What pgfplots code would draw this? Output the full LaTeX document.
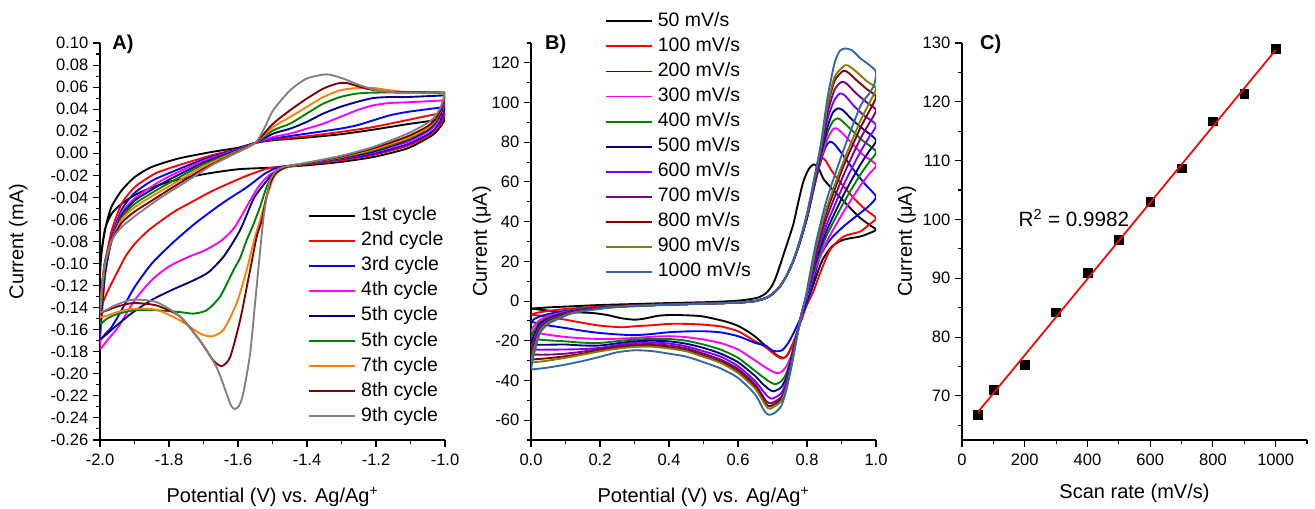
\documentclass[border=0pt]{standalone}
\usepackage{fontspec}
\setmainfont{Liberation Sans}
\usepackage{pgfplots}
\pgfplotsset{compat=1.18}
\definecolor{cRed}{RGB}{255,0,0}
\definecolor{cBlue}{RGB}{0,0,255}
\definecolor{cMag}{RGB}{255,0,255}
\definecolor{cNavy}{RGB}{0,0,128}
\definecolor{cGreen}{RGB}{0,128,0}
\definecolor{cOrange}{RGB}{255,128,0}
\definecolor{cWine}{RGB}{128,0,0}
\definecolor{cGray}{RGB}{128,128,128}
\definecolor{cViolet}{RGB}{128,0,255}
\definecolor{cPurple}{RGB}{128,0,128}
\definecolor{cOlive}{RGB}{128,128,0}
\definecolor{cSteel}{RGB}{51,102,170}
\pgfplotsset{
  orig/.style={
    scale only axis, width=258.75pt, height=297.75pt,
    axis x line*=bottom, axis y line*=left,
    axis line style={-, line width=0.8pt},
    tick align=outside,
    major tick length=5.25pt, minor tick length=3pt,
    every tick/.append style={line width=0.8pt, black},
    every minor tick/.append style={line width=0.8pt, black},
    tick label style={font=\fontsize{12.4}{14}\selectfont},
    xticklabel style={yshift=-1.5pt},
    label style={font=\fontsize{15}{18}\selectfont},
    /pgf/number format/assume math mode=true,
    /pgf/number format/1000 sep={},
    scaled ticks=false,
    clip mode=individual,
    legend style={draw=none, fill=none, inner sep=0pt, outer sep=0pt,
      font=\fontsize{14.6}{17}\selectfont, row sep=5.3pt, column sep=3.75pt,
      nodes={inner sep=0pt, text height=10.5pt, text depth=3pt}},
    legend cell align=left,
    legend image code/.code={\draw[#1, line width=1.4pt] (0pt,0pt) -- (34.5pt,0pt);},
  },
  cv/.style={no markers},
  cl/.style={line width=1.4pt, smooth, tension=0.4},
}
\begin{document}
\begin{tikzpicture}
\useasboundingbox (0,0) rectangle (986.25pt,381.75pt);
% ================= Panel A =================
\begin{axis}[orig, cv, at={(75pt,51.75pt)}, anchor=south west,
  xmin=-2, xmax=-1, ymin=-0.26, ymax=0.10,
  xtick={-2,-1.8,-1.6,-1.4,-1.2,-1}, minor xtick={-1.9,-1.7,-1.5,-1.3,-1.1},
  ytick={-0.26,-0.24,-0.22,-0.20,-0.18,-0.16,-0.14,-0.12,-0.10,-0.08,-0.06,-0.04,-0.02,0,0.02,0.04,0.06,0.08,0.10},
  minor ytick={-0.25,-0.23,-0.21,-0.19,-0.17,-0.15,-0.13,-0.11,-0.09,-0.07,-0.05,-0.03,-0.01,0.01,0.03,0.05,0.07,0.09},
  xticklabel style={/pgf/number format/.cd, fixed, fixed zerofill, precision=1},
  yticklabel style={/pgf/number format/.cd, fixed, fixed zerofill, precision=2},
  xlabel={Potential (V) vs. Ag/Ag\textsuperscript{+}},
  ylabel={Current (mA)},
  xlabel style={at={(axis description cs:0.5,-0.1436)}, anchor=center},
  ylabel style={at={(axis description cs:-0.2368,0.5)}, anchor=center},
  legend style={at={(rel axis cs:0.6038,0.5877)}, anchor=north west},
]
\addplot[cl, black] coordinates {(-1.0,0.031) (-1.005,0.028) (-1.014,0.0238) (-1.03,0.018) (-1.053,0.0133) (-1.111,0.0042) (-1.208,-0.0034) (-1.304,-0.0079) (-1.401,-0.0109) (-1.5,-0.013) (-1.6,-0.0145) (-1.7,-0.019) (-1.8,-0.026) (-1.85,-0.031) (-1.9,-0.038) (-1.94,-0.0465) (-1.966,-0.0547) (-1.985,-0.068) (-1.995,-0.088) (-2.0,-0.109) (-1.997,-0.095) (-1.99,-0.078) (-1.98,-0.062) (-1.966,-0.048) (-1.937,-0.0336) (-1.899,-0.0215) (-1.85,-0.0124) (-1.773,-0.0048) (-1.676,0.0012) (-1.6,0.005) (-1.55,0.0094) (-1.498,0.0118) (-1.401,0.0142) (-1.304,0.0172) (-1.208,0.0214) (-1.111,0.0263) (-1.05,0.029) (-1.0,0.032)};
\addlegendentry{1st cycle}
\addplot[cl, cRed] coordinates {(-1.0,0.037) (-1.005,0.032) (-1.014,0.026) (-1.03,0.020) (-1.053,0.015) (-1.111,0.0065) (-1.208,-0.0015) (-1.304,-0.0065) (-1.401,-0.010) (-1.5,-0.013) (-1.531,-0.0154) (-1.58,-0.021) (-1.628,-0.0275) (-1.68,-0.035) (-1.725,-0.0426) (-1.78,-0.052) (-1.821,-0.0608) (-1.86,-0.070) (-1.899,-0.082) (-1.925,-0.093) (-1.947,-0.106) (-1.976,-0.124) (-1.99,-0.134) (-2.0,-0.142) (-1.997,-0.128) (-1.993,-0.115) (-1.986,-0.100) (-1.966,-0.07) (-1.937,-0.0456) (-1.899,-0.0306) (-1.841,-0.0185) (-1.773,-0.0109) (-1.676,-0.0018) (-1.6,0.004) (-1.55,0.0094) (-1.498,0.0124) (-1.401,0.0154) (-1.304,0.0193) (-1.208,0.0238) (-1.111,0.030) (-1.05,0.034) (-1.0,0.037)};
\addlegendentry{2nd cycle}
\addplot[cl, cBlue] coordinates {(-1.0,0.042) (-1.005,0.036) (-1.014,0.029) (-1.03,0.022) (-1.053,0.0165) (-1.111,0.008) (-1.208,-0.0005) (-1.304,-0.0055) (-1.401,-0.0095) (-1.48,-0.0125) (-1.52,-0.018) (-1.55,-0.025) (-1.58,-0.032) (-1.647,-0.0456) (-1.725,-0.0638) (-1.792,-0.082) (-1.85,-0.100) (-1.899,-0.121) (-1.937,-0.142) (-1.966,-0.1575) (-1.985,-0.164) (-2.0,-0.169) (-1.997,-0.15) (-1.993,-0.135) (-1.985,-0.108) (-1.966,-0.076) (-1.937,-0.051) (-1.9,-0.036) (-1.85,-0.025) (-1.8,-0.018) (-1.7,-0.0055) (-1.6,0.004) (-1.55,0.0094) (-1.498,0.0133) (-1.401,0.0178) (-1.304,0.0223) (-1.256,0.0253) (-1.208,0.0299) (-1.159,0.0345) (-1.111,0.0374) (-1.05,0.040) (-1.0,0.042)};
\addlegendentry{3rd cycle}
\addplot[cl, cMag] coordinates {(-1.0,0.048) (-1.005,0.041) (-1.014,0.033) (-1.03,0.025) (-1.053,0.019) (-1.111,0.010) (-1.208,0.001) (-1.304,-0.005) (-1.401,-0.0095) (-1.47,-0.013) (-1.51,-0.02) (-1.54,-0.03) (-1.57,-0.0456) (-1.609,-0.0668) (-1.647,-0.0789) (-1.696,-0.088) (-1.744,-0.094) (-1.802,-0.103) (-1.85,-0.115) (-1.899,-0.133) (-1.947,-0.1575) (-1.975,-0.168) (-2.0,-0.177) (-1.997,-0.158) (-1.993,-0.14) (-1.985,-0.11) (-1.966,-0.078) (-1.937,-0.054) (-1.9,-0.041) (-1.85,-0.030) (-1.8,-0.021) (-1.7,-0.007) (-1.6,0.0035) (-1.55,0.0094) (-1.498,0.0148) (-1.449,0.0178) (-1.401,0.0223) (-1.353,0.0269) (-1.304,0.0329) (-1.256,0.039) (-1.208,0.0435) (-1.159,0.0456) (-1.111,0.0462) (-1.0,0.048)};
\addlegendentry{4th cycle}
\addplot[cl, cNavy] coordinates {(-1.0,0.0525) (-1.005,0.044) (-1.014,0.035) (-1.03,0.027) (-1.053,0.0205) (-1.111,0.0115) (-1.208,0.0015) (-1.304,-0.0045) (-1.401,-0.0095) (-1.47,-0.013) (-1.50,-0.019) (-1.531,-0.0306) (-1.556,-0.042) (-1.594,-0.0697) (-1.64,-0.093) (-1.686,-0.108) (-1.734,-0.116) (-1.792,-0.124) (-1.85,-0.133) (-1.908,-0.145) (-1.957,-0.1575) (-2.0,-0.168) (-1.997,-0.15) (-1.993,-0.135) (-1.985,-0.107) (-1.966,-0.079) (-1.937,-0.056) (-1.9,-0.043) (-1.85,-0.033) (-1.8,-0.024) (-1.7,-0.0085) (-1.6,0.003) (-1.55,0.0094) (-1.498,0.0178) (-1.449,0.0223) (-1.401,0.0284) (-1.353,0.036) (-1.304,0.042) (-1.256,0.0465) (-1.208,0.0501) (-1.159,0.051) (-1.111,0.051) (-1.0,0.0525)};
\addlegendentry{5th cycle}
\addplot[cl, cGreen] coordinates {(-1.0,0.0545) (-1.005,0.046) (-1.014,0.037) (-1.03,0.028) (-1.053,0.0215) (-1.111,0.0125) (-1.208,0.0025) (-1.304,-0.004) (-1.401,-0.0095) (-1.47,-0.0135) (-1.50,-0.021) (-1.517,-0.0305) (-1.536,-0.0486) (-1.556,-0.065) (-1.575,-0.0789) (-1.594,-0.095) (-1.613,-0.106) (-1.652,-0.130) (-1.691,-0.1424) (-1.730,-0.1454) (-1.768,-0.144) (-1.836,-0.1424) (-1.903,-0.1424) (-1.952,-0.146) (-1.98,-0.15) (-2.0,-0.1545) (-1.997,-0.14) (-1.993,-0.125) (-1.985,-0.102) (-1.966,-0.079) (-1.937,-0.058) (-1.9,-0.046) (-1.85,-0.036) (-1.8,-0.027) (-1.7,-0.010) (-1.6,0.0025) (-1.55,0.0094) (-1.498,0.0208) (-1.449,0.0269) (-1.401,0.036) (-1.353,0.045) (-1.304,0.051) (-1.256,0.0541) (-1.208,0.055) (-1.111,0.055) (-1.0,0.0545)};
\addlegendentry{5th cycle}
\addplot[cl, cOrange] coordinates {(-1.0,0.055) (-1.005,0.0465) (-1.014,0.038) (-1.03,0.029) (-1.053,0.0225) (-1.111,0.0135) (-1.208,0.0035) (-1.304,-0.0035) (-1.401,-0.009) (-1.46,-0.013) (-1.478,-0.0154) (-1.495,-0.021) (-1.507,-0.0305) (-1.522,-0.045) (-1.536,-0.0608) (-1.551,-0.076) (-1.575,-0.106) (-1.604,-0.136) (-1.642,-0.160) (-1.676,-0.166) (-1.710,-0.1635) (-1.768,-0.1515) (-1.836,-0.142) (-1.903,-0.141) (-1.95,-0.144) (-2.0,-0.1485) (-1.997,-0.135) (-1.993,-0.12) (-1.985,-0.099) (-1.966,-0.079) (-1.937,-0.060) (-1.9,-0.049) (-1.85,-0.039) (-1.8,-0.030) (-1.7,-0.012) (-1.6,0.002) (-1.55,0.0094) (-1.498,0.0238) (-1.449,0.0329) (-1.401,0.042) (-1.353,0.051) (-1.304,0.0571) (-1.256,0.0592) (-1.208,0.0592) (-1.159,0.0571) (-1.111,0.0556) (-1.0,0.055)};
\addlegendentry{7th cycle}
\addplot[cl, cWine] coordinates {(-1.0,0.0555) (-1.005,0.047) (-1.014,0.0385) (-1.03,0.030) (-1.053,0.024) (-1.111,0.015) (-1.208,0.0045) (-1.304,-0.003) (-1.401,-0.009) (-1.46,-0.0125) (-1.49,-0.018) (-1.505,-0.026) (-1.518,-0.040) (-1.531,-0.0608) (-1.546,-0.076) (-1.565,-0.106) (-1.594,-0.1515) (-1.623,-0.185) (-1.647,-0.193) (-1.671,-0.188) (-1.710,-0.170) (-1.768,-0.148) (-1.836,-0.138) (-1.903,-0.1358) (-1.95,-0.139) (-2.0,-0.144) (-1.997,-0.13) (-1.993,-0.117) (-1.985,-0.097) (-1.966,-0.079) (-1.937,-0.063) (-1.9,-0.053) (-1.85,-0.043) (-1.8,-0.033) (-1.7,-0.014) (-1.6,0.0015) (-1.55,0.0094) (-1.498,0.0269) (-1.449,0.039) (-1.401,0.0495) (-1.353,0.0586) (-1.314,0.0631) (-1.285,0.0637) (-1.227,0.0586) (-1.159,0.0556) (-1.0,0.0555)};
\addlegendentry{8th cycle}
\addplot[cl, cGray] coordinates {(-1.0,0.0555) (-1.005,0.049) (-1.014,0.041) (-1.03,0.033) (-1.053,0.027) (-1.111,0.0175) (-1.208,0.0057) (-1.304,-0.0025) (-1.401,-0.0085) (-1.469,-0.0124) (-1.49,-0.016) (-1.507,-0.0244) (-1.517,-0.040) (-1.527,-0.061) (-1.546,-0.121) (-1.565,-0.182) (-1.585,-0.218) (-1.597,-0.229) (-1.609,-0.232) (-1.62,-0.229) (-1.633,-0.218) (-1.662,-0.194) (-1.710,-0.170) (-1.768,-0.148) (-1.836,-0.135) (-1.903,-0.1327) (-1.95,-0.137) (-2.0,-0.144) (-1.997,-0.13) (-1.993,-0.117) (-1.986,-0.100) (-1.966,-0.0789) (-1.937,-0.0668) (-1.889,-0.0547) (-1.821,-0.0396) (-1.744,-0.0245) (-1.676,-0.0109) (-1.609,-0.0003) (-1.55,0.0094) (-1.525,0.022) (-1.498,0.039) (-1.449,0.0571) (-1.401,0.0677) (-1.343,0.0716) (-1.295,0.0677) (-1.246,0.0616) (-1.188,0.0565) (-1.111,0.055) (-1.0,0.0555)};
\addlegendentry{9th cycle}
\node[anchor=north west, inner sep=0pt, font=\bfseries\fontsize{15}{18}\selectfont] at (rel axis cs:0.035,1.02) {A)};
\end{axis}
% ================= Panel B =================
\begin{axis}[orig, cv, at={(398.25pt,51.75pt)}, anchor=south west,
  xmin=0, xmax=1, ymin=-70, ymax=130,
  xtick={0,0.2,0.4,0.6,0.8,1.0}, minor xtick={0.1,0.3,0.5,0.7,0.9},
  ytick={-60,-40,...,120}, minor ytick={-70,-50,...,130},
  xticklabel style={/pgf/number format/.cd, fixed, fixed zerofill, precision=1},
  xlabel={Potential (V) vs. Ag/Ag\textsuperscript{+}},
  ylabel={Current (μA)},
  xlabel style={at={(axis description cs:0.5,-0.1436)}, anchor=center},
  ylabel style={at={(axis description cs:-0.1429,0.5)}, anchor=center},
  legend style={at={(rel axis cs:0.2145,1.0773)}, anchor=north west},
]
\addplot[cl, black] coordinates {(0,-3.8) (0.05,-3.2) (0.1,-2.8) (0.2,-2.0) (0.3,-1.5) (0.4,-1.0) (0.5,-0.6) (0.562,-0.2) (0.6,0.2) (0.63,0.8) (0.659,1.8) (0.68,3.8) (0.698,7.5) (0.712,13) (0.735,25) (0.76,38.5) (0.775,50) (0.789,60) (0.805,66.5) (0.82,68.8) (0.835,66.5) (0.85,61) (0.9,51.5) (0.95,42.5) (0.98,38.5) (1.0,35.9) (0.975,33.8) (0.954,32.5) (0.906,30.9) (0.872,27.5) (0.845,20.8) (0.828,13) (0.81,4) (0.795,-3) (0.78,-11) (0.765,-19) (0.75,-25) (0.74,-27.8) (0.731,-28.6) (0.717,-27.8) (0.70,-25.5) (0.678,-22.3) (0.654,-18.5) (0.63,-15.5) (0.60,-12.5) (0.562,-10.2) (0.5,-7.8) (0.466,-7.3) (0.41,-7.0) (0.369,-7.4) (0.33,-8.8) (0.30,-9.4) (0.26,-8.6) (0.22,-7.0) (0.176,-6.0) (0.1,-5.5) (0.05,-4.8) (0,-3.8)};
\addlegendentry{50 mV/s}
\addplot[cl, cRed] coordinates {(0,-6.8) (0.02,-5.8) (0.06,-4.8) (0.1,-4.0) (0.2,-2.8) (0.3,-2.1) (0.4,-1.6) (0.5,-1.2) (0.6,-0.7) (0.65,0) (0.68,1.5) (0.70,3.5) (0.72,7) (0.74,12.5) (0.76,20) (0.78,30) (0.80,42) (0.82,57) (0.835,68) (0.845,72) (0.855,70.5) (0.87,66) (0.90,59) (0.94,51) (0.97,46) (1.0,41.8) (0.98,38.5) (0.954,35) (0.906,32.5) (0.867,25.8) (0.838,14.1) (0.819,5) (0.805,0) (0.795,-4) (0.78,-11.5) (0.765,-19) (0.75,-25) (0.74,-28) (0.727,-29) (0.715,-28) (0.70,-26.1) (0.678,-23) (0.65,-20.3) (0.6,-15.2) (0.55,-12.8) (0.5,-11.9) (0.45,-11.5) (0.4,-11.5) (0.35,-12.2) (0.3,-12.7) (0.263,-13.2) (0.2,-12.4) (0.15,-11) (0.1,-9.4) (0.05,-8.0) (0,-6.8)};
\addlegendentry{100 mV/s}
\addplot[cl, cBlue] coordinates {(0,-10.5) (0.01,-9) (0.03,-7.5) (0.06,-6.2) (0.1,-5) (0.15,-4) (0.22,-3) (0.3,-2.3) (0.4,-1.8) (0.5,-1.3) (0.6,-0.8) (0.65,0) (0.68,1.5) (0.70,3.5) (0.72,7) (0.74,12.5) (0.76,20) (0.78,30) (0.80,42) (0.82,57) (0.84,70.5) (0.855,78) (0.867,80.3) (0.88,79) (0.90,74.5) (0.94,65) (0.97,58.5) (1.0,52.6) (0.98,48) (0.954,44.3) (0.906,37.6) (0.867,30.9) (0.838,22.5) (0.819,10.8) (0.805,2) (0.79,-5) (0.775,-11) (0.76,-16.5) (0.746,-21) (0.73,-24.5) (0.717,-25.3) (0.70,-25) (0.68,-22.5) (0.65,-21.1) (0.6,-17.7) (0.55,-15.8) (0.5,-15.2) (0.45,-15.3) (0.4,-15.7) (0.35,-16.6) (0.3,-17.2) (0.25,-16.8) (0.2,-16.1) (0.15,-15) (0.1,-13.6) (0.05,-12.3) (0,-10.5)};
\addlegendentry{200 mV/s}
\addplot[cl, cMag] coordinates {(0,-15.5) (0.007,-13) (0.026,-9.5) (0.05,-7.5) (0.074,-6.5) (0.123,-4.6) (0.219,-2.9) (0.3,-2.3) (0.4,-1.8) (0.5,-1.3) (0.6,-0.8) (0.65,0) (0.68,1.5) (0.70,3.5) (0.72,7) (0.74,12.5) (0.76,20) (0.78,30) (0.80,42) (0.82,57) (0.84,71.5) (0.86,82) (0.875,86.5) (0.885,87) (0.90,85) (0.93,79.5) (0.96,74) (1.0,68.6) (0.98,64) (0.954,58) (0.906,45) (0.857,30) (0.828,18) (0.81,8) (0.795,0) (0.785,-6) (0.77,-17) (0.755,-27) (0.74,-33) (0.725,-35.8) (0.712,-36.3) (0.70,-35.5) (0.68,-33.5) (0.65,-30) (0.6,-24.4) (0.55,-21.2) (0.5,-19.4) (0.45,-18.2) (0.4,-17.7) (0.35,-18) (0.3,-18.6) (0.25,-19) (0.2,-19.1) (0.15,-18.8) (0.1,-18.1) (0.05,-17) (0,-15.5)};
\addlegendentry{300 mV/s}
\addplot[cl, cGreen] coordinates {(0,-19) (0.007,-15.5) (0.026,-10.5) (0.05,-8.3) (0.074,-7) (0.123,-4.8) (0.219,-3) (0.3,-2.3) (0.4,-1.8) (0.5,-1.3) (0.6,-0.8) (0.65,0) (0.68,1.5) (0.70,3.5) (0.72,7) (0.74,12.5) (0.76,20) (0.78,30) (0.80,42) (0.82,57.5) (0.84,73) (0.86,85) (0.875,90.5) (0.888,92) (0.90,91) (0.93,86) (0.96,81) (1.0,75.3) (0.98,70) (0.954,63.5) (0.906,49.5) (0.857,33) (0.828,20) (0.81,9) (0.795,0.5) (0.785,-6) (0.77,-17) (0.755,-28) (0.74,-36.5) (0.725,-40.5) (0.707,-41.9) (0.69,-40.5) (0.67,-38) (0.65,-35.3) (0.6,-28.6) (0.55,-24.5) (0.5,-21.9) (0.45,-20) (0.4,-19.1) (0.35,-19.1) (0.3,-19.4) (0.25,-20.2) (0.2,-21.1) (0.15,-21) (0.1,-20.3) (0.05,-19.8) (0,-19)};
\addlegendentry{400 mV/s}
\addplot[cl, cNavy] coordinates {(0,-22) (0.007,-18) (0.026,-11.5) (0.05,-9) (0.074,-7.4) (0.123,-5) (0.219,-3) (0.3,-2.3) (0.4,-1.8) (0.5,-1.3) (0.6,-0.8) (0.65,0) (0.68,1.5) (0.70,3.5) (0.72,7) (0.74,12.5) (0.76,20) (0.78,30) (0.80,42) (0.82,58) (0.84,74) (0.86,88) (0.875,95) (0.89,97.1) (0.905,96) (0.93,91.5) (0.96,87) (1.0,81.1) (0.98,75.5) (0.954,68.5) (0.906,53.5) (0.857,35.5) (0.828,21.5) (0.81,9.5) (0.795,0.5) (0.785,-6) (0.77,-17) (0.755,-29) (0.74,-38.5) (0.725,-43.5) (0.703,-45.5) (0.69,-44.5) (0.67,-41.5) (0.65,-37.8) (0.6,-30.8) (0.55,-26.5) (0.5,-23.6) (0.45,-21.5) (0.4,-20.3) (0.35,-20) (0.3,-20.3) (0.25,-21.3) (0.2,-22.4) (0.15,-22.4) (0.1,-21.9) (0.05,-22) (0,-22)};
\addlegendentry{500 mV/s}
\addplot[cl, cViolet] coordinates {(0,-24.5) (0.007,-20) (0.026,-12.5) (0.05,-9.5) (0.074,-7.8) (0.123,-5.2) (0.219,-3.1) (0.3,-2.4) (0.4,-1.8) (0.5,-1.3) (0.6,-0.8) (0.65,0) (0.68,1.5) (0.70,3.5) (0.72,7) (0.74,12.5) (0.76,20) (0.78,30) (0.80,42.5) (0.82,58.5) (0.84,75) (0.86,92) (0.88,101.5) (0.896,104.6) (0.91,103.5) (0.935,98.5) (0.965,93.5) (1.0,88.7) (0.98,82.5) (0.954,75) (0.906,58.5) (0.857,38.5) (0.828,23.5) (0.81,10) (0.795,0.5) (0.785,-6) (0.77,-17.5) (0.755,-30) (0.74,-40.5) (0.725,-46.5) (0.698,-49.2) (0.68,-47) (0.65,-40.4) (0.6,-32.8) (0.55,-28) (0.5,-25.3) (0.45,-22.8) (0.4,-21.4) (0.35,-20.9) (0.3,-21.1) (0.25,-22.2) (0.2,-23.6) (0.15,-24.2) (0.1,-24.4) (0.05,-24.5) (0,-24.5)};
\addlegendentry{600 mV/s}
\addplot[cl, cPurple] coordinates {(0,-27) (0.007,-22) (0.026,-13.5) (0.05,-10) (0.074,-8.2) (0.123,-5.4) (0.219,-3.2) (0.3,-2.4) (0.4,-1.8) (0.5,-1.3) (0.6,-0.8) (0.65,0) (0.68,1.5) (0.70,3.5) (0.72,7) (0.74,12.5) (0.76,20) (0.78,30.5) (0.80,43) (0.82,59) (0.84,76) (0.86,95) (0.88,106.5) (0.90,110.4) (0.915,109.5) (0.94,105) (0.97,100.5) (1.0,96.2) (0.98,89.5) (0.954,81.5) (0.906,63.5) (0.857,42) (0.828,25.5) (0.81,11) (0.795,0.5) (0.785,-6) (0.77,-18) (0.755,-31) (0.74,-42) (0.725,-48.5) (0.695,-51.5) (0.68,-50) (0.65,-42) (0.6,-34.2) (0.55,-29.5) (0.5,-26.5) (0.45,-23.8) (0.4,-22.4) (0.35,-21.7) (0.3,-21.9) (0.25,-22.8) (0.2,-24.1) (0.15,-25.5) (0.1,-26.5) (0.05,-27) (0,-27)};
\addlegendentry{700 mV/s}
\addplot[cl, cWine] coordinates {(0,-29.5) (0.007,-24) (0.026,-14.5) (0.05,-10.5) (0.074,-8.6) (0.123,-5.6) (0.219,-3.3) (0.3,-2.4) (0.4,-1.8) (0.5,-1.3) (0.6,-0.8) (0.65,0) (0.68,1.5) (0.70,3.5) (0.72,7) (0.74,12.5) (0.76,20) (0.78,30.5) (0.80,43.5) (0.82,59.5) (0.84,77) (0.86,98) (0.88,111) (0.905,116) (0.92,115) (0.945,111) (0.975,106.5) (1.0,102.9) (0.98,95.5) (0.954,87) (0.906,68) (0.857,45) (0.828,27.5) (0.81,12) (0.795,0.5) (0.785,-6) (0.77,-18.5) (0.755,-32) (0.74,-43) (0.725,-49.5) (0.693,-53) (0.68,-51.5) (0.65,-43.2) (0.6,-35.3) (0.55,-30.5) (0.5,-27.5) (0.45,-24.7) (0.4,-23.3) (0.35,-22.4) (0.3,-22.4) (0.25,-23.4) (0.2,-24.8) (0.15,-26.5) (0.1,-27.8) (0.05,-28.8) (0,-29.5)};
\addlegendentry{800 mV/s}
\addplot[cl, cOlive] coordinates {(0,-31) (0.007,-25) (0.026,-15) (0.05,-10.8) (0.074,-8.9) (0.123,-5.8) (0.219,-3.4) (0.3,-2.4) (0.4,-1.8) (0.5,-1.3) (0.6,-0.8) (0.65,0) (0.68,1.5) (0.70,3.5) (0.72,7) (0.74,12.5) (0.76,20) (0.78,30.5) (0.80,43.5) (0.82,60) (0.84,77.5) (0.86,99) (0.88,113) (0.91,118.8) (0.925,118) (0.95,114.5) (0.975,110.5) (1.0,107.1) (0.98,99.5) (0.954,90.5) (0.906,70.5) (0.857,47) (0.828,28.5) (0.81,12.5) (0.795,0.5) (0.785,-6) (0.77,-18.5) (0.755,-32.5) (0.74,-43.5) (0.725,-50.5) (0.693,-54.3) (0.68,-52.5) (0.65,-44.2) (0.6,-36.2) (0.55,-31.2) (0.5,-28.1) (0.45,-25.3) (0.4,-23.9) (0.35,-23) (0.3,-23.1) (0.25,-24) (0.2,-25.3) (0.15,-27) (0.1,-28.6) (0.05,-30) (0,-31)};
\addlegendentry{900 mV/s}
\addplot[cl, cSteel] coordinates {(0,-34.5) (0.007,-27.8) (0.026,-16.1) (0.05,-11.5) (0.074,-9.4) (0.123,-6) (0.219,-3.5) (0.316,-2.5) (0.4,-1.9) (0.509,-1.3) (0.6,-0.8) (0.65,0) (0.68,1.5) (0.70,3.5) (0.72,7) (0.74,12.5) (0.76,20.5) (0.78,31) (0.80,44) (0.82,61) (0.84,79) (0.86,103) (0.88,120) (0.895,126) (0.91,127.2) (0.93,126.4) (0.955,122.2) (0.98,119) (1.0,115.5) (0.995,109) (0.98,104.5) (0.954,97.9) (0.906,76.1) (0.857,51) (0.828,30.9) (0.809,14.1) (0.795,1) (0.785,-6) (0.77,-19) (0.755,-33) (0.74,-45) (0.725,-53) (0.705,-56.5) (0.688,-57.3) (0.675,-55) (0.65,-47.1) (0.6,-38.7) (0.55,-34) (0.5,-30.8) (0.45,-28) (0.4,-26.5) (0.35,-25.2) (0.3,-24.8) (0.25,-25.8) (0.2,-28.1) (0.15,-30.2) (0.1,-32) (0.05,-33.5) (0,-34.5)};
\addlegendentry{1000 mV/s}
\node[anchor=north west, inner sep=0pt, font=\bfseries\fontsize{15}{18}\selectfont] at (rel axis cs:0.04,1.02) {B)};
\end{axis}
% ================= Panel C =================
\begin{axis}[orig, at={(721.5pt,51.75pt)}, anchor=south west,
  xmin=0, xmax=1100, ymin=62.5, ymax=130,
  xtick={0,200,...,1000}, minor xtick={100,300,...,1100},
  ytick={70,80,...,130}, minor ytick={65,75,...,125},
  xlabel={Scan rate (mV/s)},
  ylabel={Current (μA)},
  xlabel style={at={(axis description cs:0.5,-0.1335)}, anchor=center},
  ylabel style={at={(axis description cs:-0.1603,0.5)}, anchor=center},
]
\addplot[only marks, mark=square*, mark size=3.3pt, black] coordinates {(50,66.8) (100,71.1) (200,75.3) (300,84.2) (400,91.0) (500,96.6) (600,103.0) (700,108.7) (800,116.7) (900,121.3) (1000,129.0)};
\addplot[cRed, line width=1.3pt, no markers] coordinates {(50,67.2) (1000,128.8)};
\node[anchor=west, inner sep=0pt, font=\fontsize{15.5}{18}\selectfont] at (axis cs:180,100.2) {R\textsuperscript{2} = 0.9982};
\node[anchor=north west, inner sep=0pt, font=\bfseries\fontsize{15}{18}\selectfont] at (rel axis cs:0.052,1.02) {C)};
\end{axis}
\end{tikzpicture}
\end{document}
